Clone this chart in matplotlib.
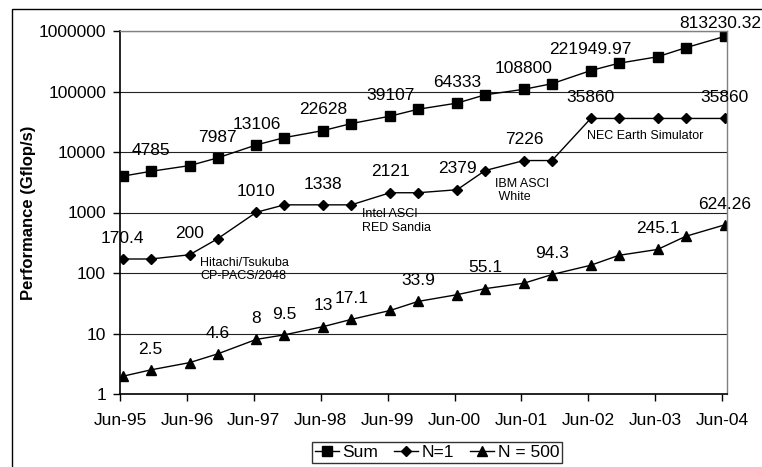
import matplotlib
matplotlib.use("Agg")
import matplotlib.pyplot as plt
import matplotlib.dates as mdates
from matplotlib.patches import Rectangle
from matplotlib.ticker import FixedLocator, FuncFormatter
import pandas as pd

plt.rcParams['font.family'] = ['Liberation Sans', 'DejaVu Sans']

# TOP500 lists, June and November
list_dates = ['1995-06-15', '1995-11-15', '1996-06-15', '1996-11-15', '1997-06-15',
              '1997-11-15', '1998-06-15', '1998-11-15', '1999-06-15', '1999-11-15',
              '2000-06-15', '2000-11-15', '2001-06-15', '2001-11-15', '2002-06-15',
              '2002-11-15', '2003-06-15', '2003-11-15', '2004-06-15']

sum_perf = [3983, 4785, 5960, 7987, 13106, 17300, 22628, 29500, 39107, 50900,
            64333, 88100, 108800, 134500, 221949.97, 293000, 375000, 528000, 813230.32]
n1_perf = [170.4, 170.4, 200, 368.2, 1010, 1338, 1338, 1338, 2121, 2121,
           2379, 4938, 7226, 7226, 35860, 35860, 35860, 35860, 35860]
n500_perf = [1.96, 2.5, 3.3, 4.6, 8, 9.5, 13, 17.1, 24, 33.9,
             43.8, 55.1, 67.8, 94.3, 134.3, 195.8, 245.1, 403.4, 624.26]

# which points get a value label
sum_labeled = [1, 3, 4, 6, 8, 10, 12, 14, 18]
n1_labeled = [0, 2, 4, 6, 8, 10, 12, 14, 18]
n500_labeled = [1, 3, 4, 5, 6, 7, 9, 11, 13, 16, 18]

# machine names: (text, left date, value)
machines = [('Hitachi/Tsukuba\nCP-PACS/2048', '1996-08-11', 114),
            ('Intel ASCI\nRED Sandia', '1999-01-13', 725),
            ('IBM ASCI\n White', '2001-01-10', 2312),
            ('NEC Earth Simulator', '2002-05-28', 18370)]

x = pd.to_datetime(list_dates)


def fmt_value(v):
    return f"{v:.2f}".rstrip('0').rstrip('.')


fig = plt.figure(figsize=(7.62, 4.67), dpi=100)
ax = fig.add_axes([120 / 762, 73 / 467, 607 / 762, 363 / 467])

ax.plot(x, sum_perf, color='black', lw=1, marker='s', ms=6.5, label='Sum')
ax.plot(x, n1_perf, color='black', lw=1, marker='D', ms=5, label='N=1')
ax.plot(x, n500_perf, color='black', lw=1, marker='^', ms=7, label='N = 500')

for series, idx in [(sum_perf, sum_labeled), (n1_perf, n1_labeled), (n500_perf, n500_labeled)]:
    for i in idx:
        off = (0, 15)
        if series is sum_perf and i == len(series) - 1:
            off = (-3, 9)  # no room above the last sum point
        ax.annotate(fmt_value(series[i]), (x[i], series[i]), xytext=off,
                    textcoords='offset points', ha='center', va='center', fontsize=12.5)

for txt, d, v in machines:
    ax.text(pd.Timestamp(d), v, txt, ha='left', va='center', fontsize=9, linespacing=1.15)

ax.set_yscale('log')
ax.set_ylim(1, 1e6)
ax.yaxis.set_major_locator(FixedLocator([10 ** k for k in range(7)]))
ax.yaxis.set_minor_locator(FixedLocator([]))
ax.yaxis.set_major_formatter(FuncFormatter(lambda v, p: f"{int(round(v))}"))

ax.set_xlim(pd.Timestamp('1995-06-01'), pd.Timestamp('2004-06-28'))
ax.xaxis.set_major_locator(FixedLocator(mdates.date2num(pd.date_range('1995-06-01', '2004-06-01', freq='12MS'))))
ax.xaxis.set_major_formatter(mdates.DateFormatter('%b-%y'))

ax.grid(axis='y', color='#222222', lw=0.8)
ax.set_axisbelow(True)
ax.tick_params(axis='both', direction='out', length=5, width=1, labelsize=12.5, color='black')
ax.tick_params(axis='x', pad=9)
ax.tick_params(axis='y', pad=5)
for s in ['top', 'right']:
    ax.spines[s].set_color('#808080')
    ax.spines[s].set_linewidth(1)
for s in ['left', 'bottom']:
    ax.spines[s].set_color('black')
    ax.spines[s].set_linewidth(1.2)

ax.set_ylabel('Performance (Gflop/s)', fontsize=12, fontweight='bold', labelpad=2)

leg = fig.legend(loc='center', bbox_to_anchor=(437 / 762, 14.5 / 467), ncol=3, fontsize=12.5,
                 frameon=True, fancybox=False, edgecolor='black', handlelength=1.4,
                 handletextpad=0.2, columnspacing=0.9, borderpad=0.15, borderaxespad=0)
leg.get_frame().set_linewidth(1)

# chart area border, runs off the right and bottom
fig.patches.append(Rectangle((11.5 / 762, -0.1), 1.2, 1.1 - 9 / 467, transform=fig.transFigure,
                             fill=False, edgecolor='black', lw=1, clip_on=False))

fig.savefig('out.png', dpi=100)
